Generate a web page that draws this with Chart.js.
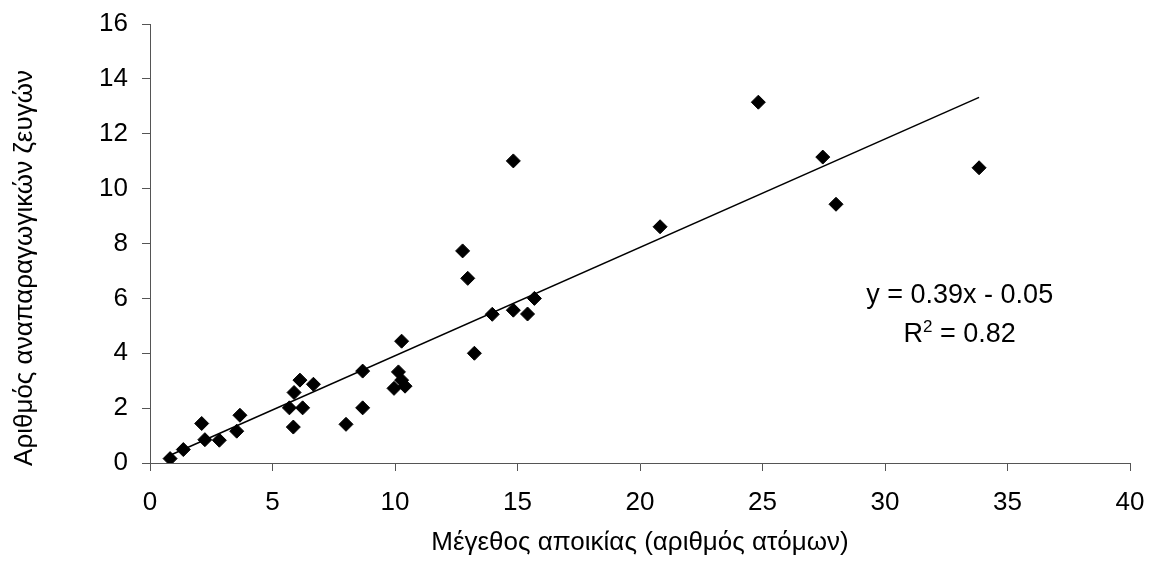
<!DOCTYPE html>
<html>
<head>
<meta charset="utf-8">
<script src="https://cdn.jsdelivr.net/npm/chart.js@4/dist/chart.umd.min.js"></script>
<style>
  html, body { margin: 0; padding: 0; background: #fff; }
  #wrap { width: 1155px; height: 561px; }
</style>
</head>
<body>
<div id="wrap"><canvas id="colonyChart" width="1155" height="561"></canvas></div>
<script>
// colony size (x) vs number of breeding pairs (y)
const colonySize = [0.82, 1.36, 2.11, 2.24, 2.83, 3.54, 3.67, 5.69, 5.85, 5.88, 6.12, 6.23, 6.67,
    8.00, 8.68, 8.68, 9.96, 10.14, 10.27, 10.41, 10.27, 12.76, 12.97, 13.24, 13.97, 14.83,
    14.83, 15.41, 15.69, 20.82, 24.83, 27.46, 28.00, 33.84];
const breedingPairs = [0.16, 0.49, 1.44, 0.85, 0.83, 1.16, 1.74, 2.01, 1.31, 2.57, 3.02, 2.01, 2.87,
    1.41, 3.35, 2.01, 2.72, 3.32, 3.02, 2.80, 4.44, 7.73, 6.73, 4.00, 5.42, 5.57,
    11.01, 5.43, 6.00, 8.61, 13.15, 11.15, 9.43, 10.76];

// trend line as it is drawn in the picture
const trendSlope = 0.395;
const trendIntercept = -0.04;

const xTicks = [0, 5, 10, 15, 20, 25, 30, 35, 40];
const yTicks = [0, 2, 4, 6, 8, 10, 12, 14, 16];

const xTitle = 'Μέγεθος αποικίας (αριθμός ατόμων)';
const yTitle = 'Αριθμός αναπαραγωγικών ζευγών';
const eqText = 'y = 0.39x - 0.05';
const r2Value = '0.82';

const points = colonySize.map((x, i) => ({ x: x, y: breedingPairs[i] }));
const xMin = Math.min(...colonySize);
const xMax = Math.max(...colonySize);
const trendPoints = [
    { x: xMin, y: trendSlope * xMin + trendIntercept },
    { x: xMax, y: trendSlope * xMax + trendIntercept }
];

const FONT = 'Liberation Sans, Arial, sans-serif';
const axisColor = '#555';

// axis titles and the regression label
const textPlugin = {
    id: 'textPlugin',
    afterDraw(chart) {
        const ctx = chart.ctx;
        const xs = chart.scales.x, ys = chart.scales.y;
        ctx.save();
        ctx.fillStyle = '#000';
        ctx.textBaseline = 'alphabetic';

        // x title
        ctx.font = '26px ' + FONT;
        ctx.textAlign = 'center';
        ctx.fillText(xTitle, (chart.chartArea.left + chart.chartArea.right) / 2, 550);

        // y title
        ctx.save();
        ctx.translate(32, 268);
        ctx.rotate(-Math.PI / 2);
        ctx.fillText(yTitle, 0, 0);
        ctx.restore();

        // equation
        const cx = xs.getPixelForValue(33.05);
        ctx.font = '27px ' + FONT;
        ctx.textAlign = 'center';
        ctx.fillText(eqText, cx, ys.getPixelForValue(5.83));

        // R^2 line
        const base = ys.getPixelForValue(4.42);
        ctx.textAlign = 'left';
        const wR = ctx.measureText('R').width;
        const rest = ' = ' + r2Value;
        const wRest = ctx.measureText(rest).width;
        ctx.font = '17px ' + FONT;
        const w2 = ctx.measureText('2').width;
        const total = wR + w2 + wRest;
        const px = cx - total / 2;
        ctx.font = '27px ' + FONT;
        ctx.fillText('R', px, base);
        ctx.font = '17px ' + FONT;
        ctx.fillText('2', px + wR, base - 10);
        ctx.font = '27px ' + FONT;
        ctx.fillText(rest, px + wR + w2, base);
        ctx.restore();
    }
};

const ctx = document.getElementById('colonyChart').getContext('2d');
const colonyChart = new Chart(ctx, {
    type: 'scatter',
    data: {
        datasets: [
            {
                label: 'Αποικίες',
                data: points,
                pointStyle: 'rectRot',
                pointRadius: 7,
                pointBackgroundColor: '#000',
                pointBorderColor: '#000',
                pointBorderWidth: 1,
                order: 1
            },
            {
                type: 'line',
                label: 'Γραμμική τάση',
                data: trendPoints,
                borderColor: '#000',
                borderWidth: 1.5,
                pointRadius: 0,
                fill: false,
                order: 2
            }
        ]
    },
    options: {
        responsive: false,
        animation: false,
        layout: { padding: { top: 24, right: 25, left: 0, bottom: 0 } },
        plugins: {
            legend: { display: false },
            tooltip: { enabled: false }
        },
        scales: {
            x: {
                type: 'linear',
                min: xTicks[0],
                max: xTicks[xTicks.length - 1],
                afterBuildTicks: axis => { axis.ticks = xTicks.map(v => ({ value: v })); },
                afterFit: axis => {
                    axis.height = 98;
                    axis.paddingLeft = 0;
                    axis.paddingRight = 0;
                },
                grid: { drawOnChartArea: false, drawTicks: true, tickLength: 8, color: axisColor },
                border: { display: true, color: axisColor, width: 1 },
                ticks: { color: '#000', font: { family: FONT, size: 26 }, padding: 16, maxRotation: 0 }
            },
            y: {
                type: 'linear',
                min: yTicks[0],
                max: yTicks[yTicks.length - 1],
                afterBuildTicks: axis => { axis.ticks = yTicks.map(v => ({ value: v })); },
                afterFit: axis => {
                    axis.width = 150;
                    axis.paddingTop = 0;
                    axis.paddingBottom = 0;
                },
                grid: { drawOnChartArea: false, drawTicks: true, tickLength: 8, color: axisColor },
                border: { display: true, color: axisColor, width: 1 },
                ticks: { color: '#000', font: { family: FONT, size: 26 }, padding: 14 }
            }
        }
    },
    plugins: [textPlugin]
});
</script>
</body>
</html>
